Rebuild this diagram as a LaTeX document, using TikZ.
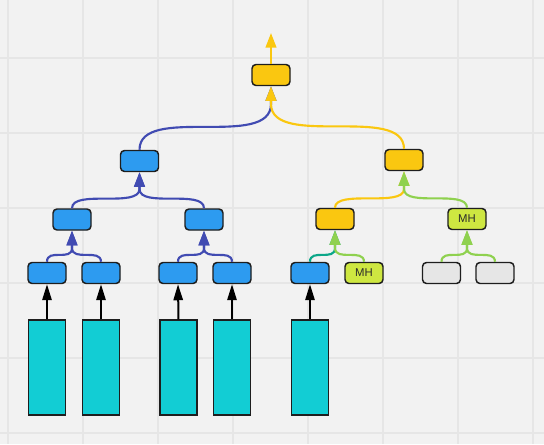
\documentclass[tikz,border=0pt]{standalone}
\usepackage{fontspec}
\setmainfont{Liberation Sans}
\usetikzlibrary{arrows.meta}
\definecolor{bgc}{HTML}{F2F2F2}
\definecolor{gridc}{HTML}{E6E6E6}
\definecolor{edgec}{HTML}{1E1E1E}
\definecolor{textc}{HTML}{2B2B2B}
\definecolor{mblue}{HTML}{2D9BF0}
\definecolor{myellow}{HTML}{FAC710}
\definecolor{mlime}{HTML}{CEE741}
\definecolor{mgray}{HTML}{E6E6E6}
\definecolor{mcyan}{HTML}{12CDD4}
\definecolor{lblue}{HTML}{414BB2}
\definecolor{lgreen}{HTML}{8FD14F}
\definecolor{lteal}{HTML}{0CA789}

\begin{document}
\begin{tikzpicture}[x=0.75pt,y=0.75pt,yscale=-1,xscale=1,
  box/.style={draw=edgec, line width=1.1pt, rounded corners=3pt, minimum width=28.5pt, minimum height=15.75pt, inner sep=0pt, font=\fontsize{8.5pt}{9pt}\selectfont, text=textc},
  bluebox/.style={box, fill=mblue},
  yellowbox/.style={box, fill=myellow},
  mhbox/.style={box, fill=mlime},
  graybox/.style={box, fill=mgray},
  bar/.style={draw=edgec, line width=1.1pt, fill=mcyan, minimum width=28pt, minimum height=71.25pt, inner sep=0pt},
  link/.style={line width=1.6pt, -{Triangle[length=11pt,width=8pt]}},
  feed/.style={line width=1.5pt, black, -{Triangle[length=12pt,width=7pt]}},
  gridline/.style={draw=gridc, line width=1pt}]
\useasboundingbox (0,0) rectangle (544,444);
\fill[bgc] (0,0) rectangle (544,444);
\foreach \gx in {8,83,...,533} \draw[gridline] (\gx,0) -- (\gx,444);
\foreach \gy in {58,133,...,433} \draw[gridline] (0,\gy) -- (544,\gy);

% tree of boxes
\node[yellowbox] (top) at (271,75) {};
\node[bluebox] (b2) at (139.5,161) {};
\node[yellowbox] (y2) at (404,160) {};
\node[bluebox] (b3l) at (72,219.5) {};
\node[bluebox] (b3r) at (204,219.5) {};
\node[yellowbox] (y3) at (335,219) {};
\node[mhbox] (mh3) at (467,219) {MH};
\node[bluebox] (b4a) at (47,273) {};
\node[bluebox] (b4b) at (101,273) {};
\node[bluebox] (b4c) at (178,273) {};
\node[bluebox] (b4d) at (232,273) {};
\node[bluebox] (b4e) at (310,273) {};
\node[mhbox] (mh4) at (364,273) {MH};
\node[graybox] (g4a) at (441.5,273) {};
\node[graybox] (g4b) at (495,273) {};

% bars
\node[bar] (r1) at (47,367.5) {};
\node[bar] (r2) at (101,367.5) {};
\node[bar] (r3) at (178.5,367.5) {};
\node[bar] (r4) at (232,367.5) {};
\node[bar] (r5) at (310,367.5) {};

% merge points
\coordinate (out) at (271,33);
\coordinate (mtop) at (271,104);
\coordinate (mb2) at (139.5,189);
\coordinate (my2) at (404,189);
\coordinate (mb3l) at (72,248);
\coordinate (mb3r) at (204,248);
\coordinate (my3) at (335,248);
\coordinate (mmh3) at (467,248);

% bars into first row
\draw[feed] (r1.north) -- (b4a.south);
\draw[feed] (r2.north) -- (b4b.south);
\draw[feed] (r3.north) -- (b4c.south);
\draw[feed] (r4.north) -- (b4d.south);
\draw[feed] (r5.north) -- (b4e.south);

% first row into second row
\draw[link, lblue] (b4a.north) .. controls (b4a.north |- mb3l) and (mb3l |- b4a.north) .. (mb3l) -- (b3l.south);
\draw[link, lblue] (b4b.north) .. controls (b4b.north |- mb3l) and (mb3l |- b4b.north) .. (mb3l) -- (b3l.south);
\draw[link, lblue] (b4c.north) .. controls (b4c.north |- mb3r) and (mb3r |- b4c.north) .. (mb3r) -- (b3r.south);
\draw[link, lblue] (b4d.north) .. controls (b4d.north |- mb3r) and (mb3r |- b4d.north) .. (mb3r) -- (b3r.south);
\draw[link, lteal] (b4e.north) .. controls (b4e.north |- my3) and (my3 |- b4e.north) .. (my3) -- (y3.south);
\draw[link, lgreen] (mh4.north) .. controls (mh4.north |- my3) and (my3 |- mh4.north) .. (my3) -- (y3.south);
\draw[link, lgreen] (g4a.north) .. controls (g4a.north |- mmh3) and (mmh3 |- g4a.north) .. (mmh3) -- (mh3.south);
\draw[link, lgreen] (g4b.north) .. controls (g4b.north |- mmh3) and (mmh3 |- g4b.north) .. (mmh3) -- (mh3.south);

% second row into third row
\draw[link, lblue] (b3l.north) .. controls (b3l.north |- mb2) and (mb2 |- b3l.north) .. (mb2) -- (b2.south);
\draw[link, lblue] (b3r.north) .. controls (b3r.north |- mb2) and (mb2 |- b3r.north) .. (mb2) -- (b2.south);
\draw[link, myellow] (y3.north) .. controls (y3.north |- my2) and (my2 |- y3.north) .. (my2) -- (y2.south);
\draw[link, lgreen] (mh3.north) .. controls (mh3.north |- my2) and (my2 |- mh3.north) .. (my2) -- (y2.south);

% into the top
\draw[link, lblue] (b2.north) .. controls (b2.north |- mtop) and (mtop |- b2.north) .. (mtop) -- (top.south);
\draw[link, myellow] (y2.north) .. controls (y2.north |- mtop) and (mtop |- y2.north) .. (mtop) -- (top.south);
\draw[link, myellow] (top.north) -- (out);
\end{tikzpicture}
\end{document}
